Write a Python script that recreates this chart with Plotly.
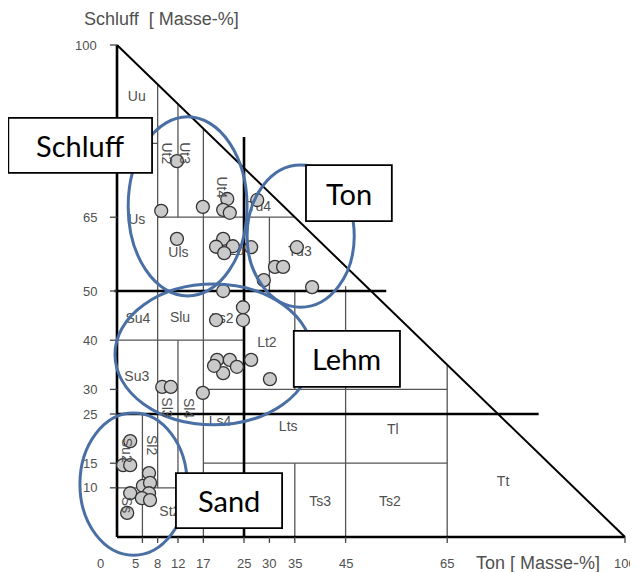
import plotly.graph_objects as go

# Ton (clay) / Schluff (silt) in Masse-%
ton = [11.8, 8.7, 16.9, 21.7, 20.9, 22.2, 27.6, 11.8, 20.9, 19.5, 22.8, 21.1, 26.4, 35.4,
       31.1, 32.7, 28.9, 38.4, 20.9, 24.8, 24.8, 19.5, 19.7, 22.2, 23.6, 20.9, 19.1, 26.4,
       30.1, 8.9, 10.6, 16.9, 2.6, 1.2, 2.6, 6.3, 5.1, 6.5, 6.3, 2.6, 4.9, 6.5, 2.0]
schluff = [76.4, 66.3, 67.1, 68.7, 66.5, 65.9, 68.5, 60.6, 60.6, 59.0, 59.1, 57.7, 58.9, 58.9,
           54.9, 54.9, 52.2, 50.8, 50.0, 46.7, 44.1, 44.1, 36.0, 36.0, 34.6, 33.3, 34.8, 36.0,
           32.1, 30.5, 30.5, 29.3, 19.5, 14.6, 14.6, 13.0, 10.4, 11.0, 8.9, 8.9, 7.9, 7.5, 4.9]

# Bodenarten labels
lab_names = ["Uu", "Us", "Uls", "Lu", "Tu4", "Tu3", "Su4", "Slu", "Ls2", "Lt2", "Su3",
             "Ls4", "Lts", "Tl", "St2", "Ts3", "Ts2", "Tt"]
lab_ton = [3.9, 3.9, 12.1, 23.5, 28.0, 36.0, 4.1, 12.4, 20.7, 29.5, 3.9,
           20.3, 33.7, 54.3, 10.4, 40.0, 53.7, 76.0]
lab_schluff = [89.4, 64.4, 57.7, 58.0, 66.9, 57.9, 44.3, 44.5, 44.3, 39.4, 32.5,
               23.2, 22.2, 21.7, 4.9, 7.1, 7.1, 11.0]

rot_names = ["Ut2", "Ut3", "Ut4", "Sl3", "Sl4", "Su2", "Sl2", "Ss"]
rot_ton = [9.8, 13.4, 20.7, 9.8, 14.2, 2.0, 6.9, 2.0]
rot_schluff = [78.0, 78.0, 71.0, 26.4, 26.2, 17.7, 18.7, 6.5]

# class boundaries
thin_h = [(80, 0, 8), (65, 8, 35), (40, 0, 25), (30, 17, 65), (15, 17, 65), (10, 0, 17)]
thin_v = [(5, 0, 25), (8, 10, 92), (12, 10, 40), (12, 65, 88), (17, 0, 83), (30, 50, 65),
          (35, 0, 15), (35, 30, 50), (45, 0, 51), (65, 0, 35)]
thick_h = [(50, -0.5, 53), (25, 0, 83)]
thick_v = [(25, 0, 81.3)]

y_ticks = [100, 65, 50, 40, 30, 25, 15, 10]
x_ticks = [0, 5, 8, 12, 17, 25, 30, 35, 45, 65, 100]

# groups
grp_names = ["Schluff", "Ton", "Lehm", "Sand"]
ell_x0 = [2.2, 25.6, -0.4, -7.3]
ell_x1 = [25.6, 46.7, 38.4, 13.8]
ell_y0 = [49.0, 46.7, 22.8, -3.7]
ell_y1 = [85.4, 75.6, 51.4, 25.2]
box_x0 = [-21.4, 37.2, 34.8, 11.6]
box_x1 = [6.9, 54.1, 55.7, 32.5]
box_y0 = [74.0, 64.2, 30.5, 1.8]
box_y1 = [85.2, 75.6, 41.9, 13.0]

GREY = "#505050"
fig = go.Figure()

line_kw = dict(type="line", xref="x", yref="y", layer="below")
for y, a, b in thin_h:
    fig.add_shape(x0=a, x1=b, y0=y, y1=y, line=dict(color="#555555", width=1.3), **line_kw)
for x, a, b in thin_v:
    fig.add_shape(x0=x, x1=x, y0=a, y1=b, line=dict(color="#555555", width=1.3), **line_kw)
for y, a, b in thick_h:
    fig.add_shape(x0=a, x1=b, y0=y, y1=y, line=dict(color="black", width=2.6), **line_kw)
for x, a, b in thick_v:
    fig.add_shape(x0=x, x1=x, y0=a, y1=b, line=dict(color="black", width=2.6), **line_kw)
# frame
fig.add_shape(x0=0, x1=0, y0=0, y1=100, line=dict(color="black", width=2.6), **line_kw)
fig.add_shape(x0=0, x1=100, y0=0, y1=0, line=dict(color="black", width=2.6), **line_kw)
fig.add_shape(x0=0, x1=100, y0=100, y1=0, line=dict(color="black", width=2), **line_kw)
# ticks
for v in y_ticks:
    fig.add_shape(x0=-1.4, x1=0, y0=v, y1=v, line=dict(color="#444444", width=1.3), **line_kw)
for v in x_ticks[1:]:
    fig.add_shape(x0=v, x1=v, y0=0, y1=-1.2, line=dict(color="#444444", width=1.3), **line_kw)

fig.add_trace(go.Scatter(x=lab_ton, y=lab_schluff, mode="text", text=lab_names,
                         textfont=dict(size=14, color=GREY, family="Liberation Sans"),
                         hoverinfo="skip", showlegend=False))
fig.add_trace(go.Scatter(x=ton, y=schluff, mode="markers", showlegend=False,
                         marker=dict(size=13, color="#cacaca", line=dict(color="#333333", width=1.3))))

for i in range(len(rot_names)):
    fig.add_annotation(x=rot_ton[i], y=rot_schluff[i], text=rot_names[i], showarrow=False,
                       textangle=90, font=dict(size=14, color=GREY, family="Liberation Sans"))

for i in range(len(grp_names)):
    fig.add_shape(type="circle", xref="x", yref="y", x0=ell_x0[i], x1=ell_x1[i],
                  y0=ell_y0[i], y1=ell_y1[i], line=dict(color="#4a6fa5", width=3), layer="above")
for i in range(len(grp_names)):
    fig.add_shape(type="rect", xref="x", yref="y", x0=box_x0[i], x1=box_x1[i],
                  y0=box_y0[i], y1=box_y1[i], fillcolor="white",
                  line=dict(color="black", width=1.8), layer="above")
    fig.add_annotation(x=(box_x0[i] + box_x1[i]) / 2, y=(box_y0[i] + box_y1[i]) / 2,
                       text=grp_names[i], showarrow=False,
                       font=dict(size=29, color="black", family="Lato"))

tick_font = dict(size=13, color=GREY, family="Liberation Sans")
for v in y_ticks:
    fig.add_annotation(x=0, y=v, text=str(v), showarrow=False, xanchor="right",
                       xshift=-18, font=tick_font)
for v in x_ticks:
    shift = -17 if v == 0 else (-7 if v == 5 else 0)
    fig.add_annotation(x=v, y=0, text=str(v), showarrow=False, yshift=-26,
                       xshift=shift, font=tick_font)

fig.add_annotation(x=0, y=100, text="Schluff  [ Masse-%]", showarrow=False, xanchor="center",
                   xshift=44, yshift=26, font=dict(size=18, color=GREY, family="Liberation Sans"))
fig.add_annotation(x=100, y=0, text="Ton [ Masse-%]", showarrow=False, xanchor="right",
                   xshift=-23, yshift=-26, font=dict(size=18, color=GREY, family="Liberation Sans"))

# the page body keeps an 8px margin, so the figure is 8px smaller and the ranges shifted
fig.update_layout(
    width=630, height=564, autosize=False,
    margin=dict(l=0, r=0, t=0, b=0),
    paper_bgcolor="white", plot_bgcolor="white",
    xaxis=dict(range=[-21.46, 102.56], visible=False, showgrid=False, zeroline=False),
    yaxis=dict(range=[-7.11, 107.52], visible=False, showgrid=False, zeroline=False),
    hovermode=False,
)
fig.write_html("out.html")
